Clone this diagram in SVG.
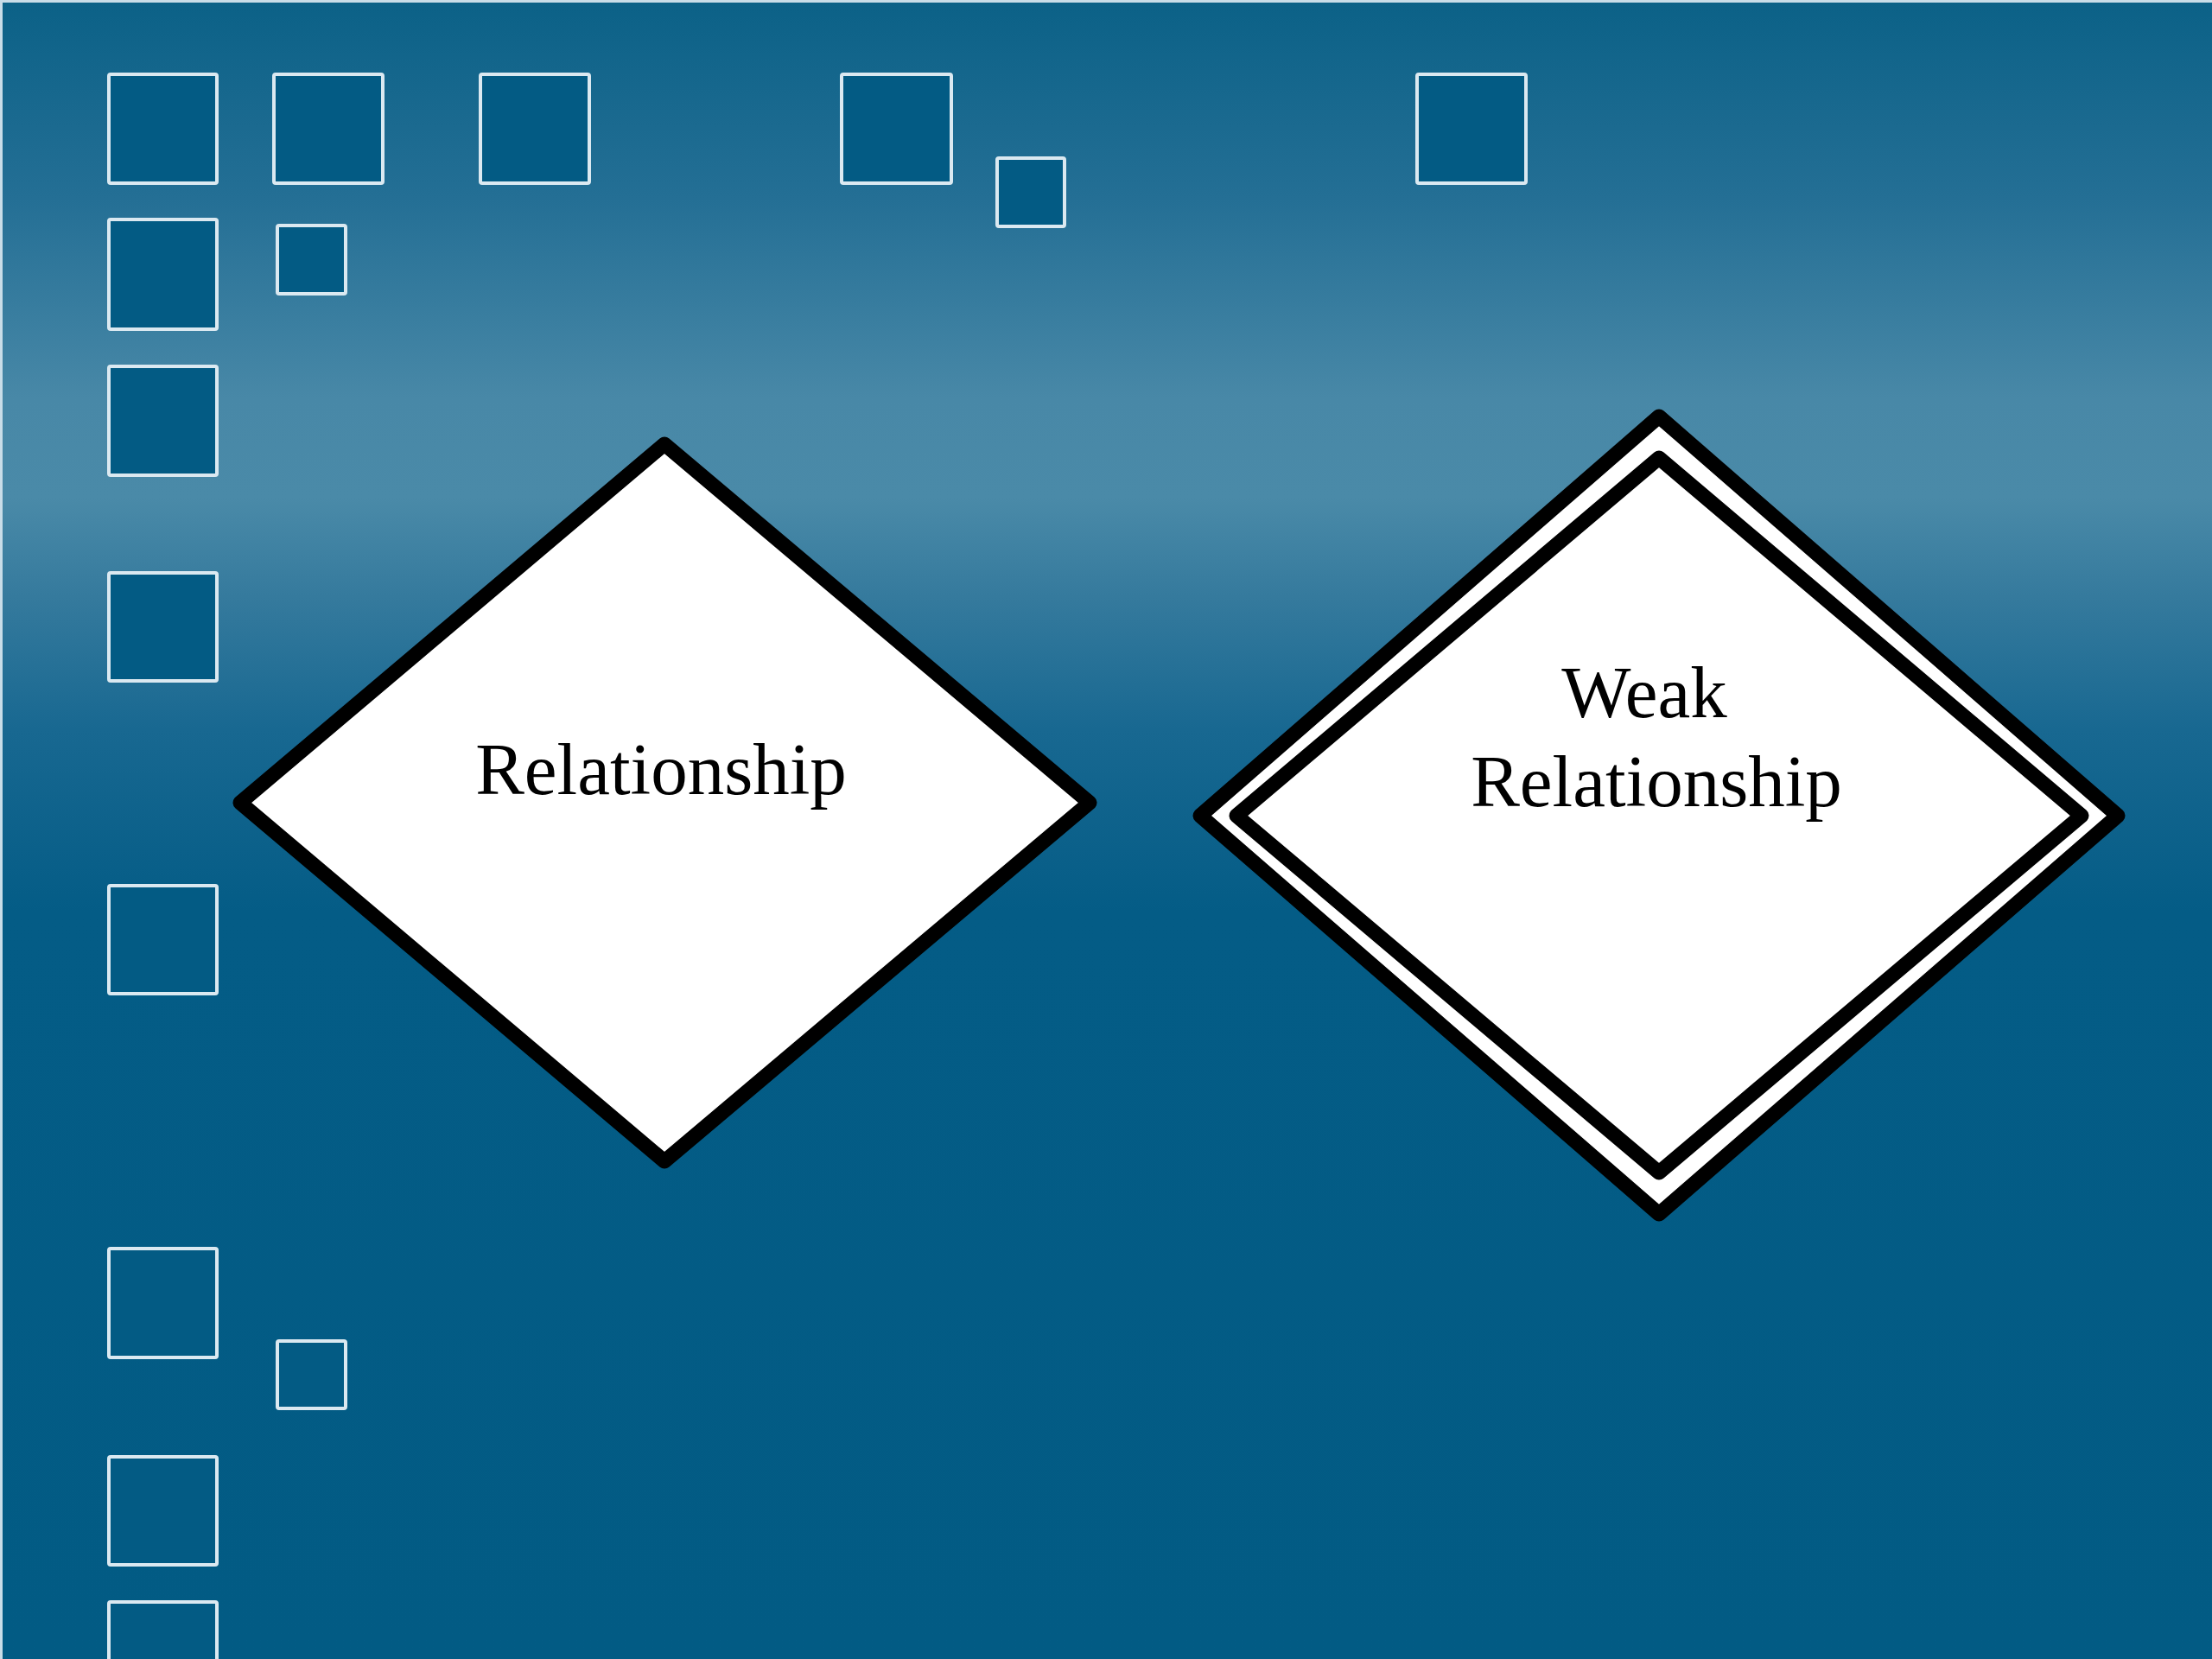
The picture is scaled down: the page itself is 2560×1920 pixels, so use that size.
<svg xmlns="http://www.w3.org/2000/svg" width="2560" height="1920" viewBox="0 0 2560 1920">
<defs>
<linearGradient id="bg" x1="0" y1="0" x2="0" y2="1">
<stop offset="0" stop-color="#0b6187"/>
<stop offset="0.12" stop-color="#246f95"/>
<stop offset="0.24" stop-color="#4888a7"/>
<stop offset="0.30" stop-color="#4a8aa8"/>
<stop offset="0.36" stop-color="#357a9d"/>
<stop offset="0.44" stop-color="#186891"/>
<stop offset="0.55" stop-color="#045c86"/>
<stop offset="1" stop-color="#025b84"/>
</linearGradient>
<style>
.sq{fill:#035b84;stroke:#dbe9f1;stroke-width:4}
.dia{fill:#ffffff;stroke:#000000;stroke-width:17;stroke-linejoin:round}
.lbl{font-family:"Liberation Serif","Times New Roman",serif;font-size:85px;fill:#000000;text-anchor:middle}
</style>
</defs>
<rect x="0" y="0" width="2560" height="1920" fill="url(#bg)"/>
<path d="M1.5,1920 V1.5 H2560" fill="none" stroke="#c9dde8" stroke-width="3"/>
<g id="decor">
<rect class="sq" x="126" y="86" width="125" height="126" rx="2"/>
<rect class="sq" x="317" y="86" width="126" height="126" rx="2"/>
<rect class="sq" x="556" y="86" width="126" height="126" rx="2"/>
<rect class="sq" x="974" y="86" width="127" height="126" rx="2"/>
<rect class="sq" x="1154" y="183" width="78" height="79" rx="2"/>
<rect class="sq" x="1640" y="86" width="126" height="126" rx="2"/>
<rect class="sq" x="126" y="254" width="125" height="127" rx="2"/>
<rect class="sq" x="321" y="261" width="79" height="79" rx="2"/>
<rect class="sq" x="126" y="424" width="125" height="126" rx="2"/>
<rect class="sq" x="126" y="663" width="125" height="125" rx="2"/>
<rect class="sq" x="126" y="1025" width="125" height="125" rx="2"/>
<rect class="sq" x="126" y="1445" width="125" height="126" rx="2"/>
<rect class="sq" x="321" y="1552" width="79" height="78" rx="2"/>
<rect class="sq" x="126" y="1686" width="125" height="125" rx="2"/>
<rect class="sq" x="126" y="1854" width="125" height="126" rx="2"/>
</g>
<g id="connectors"></g>
<g id="relationship">
<polygon class="dia" points="769,514 1261,929 769,1344 278,929"/>
<text class="lbl" x="765" y="919">Relationship</text>
</g>
<g id="weak-relationship">
<polygon class="dia" points="1920,482 2451,944 1920,1405 1389,944"/>
<polygon class="dia" points="1920,530 2409,944 1920,1357 1431,944"/>
<text class="lbl" x="1903" y="830">Weak</text>
<text class="lbl" x="1917" y="933">Relationship</text>
</g>
</svg>
